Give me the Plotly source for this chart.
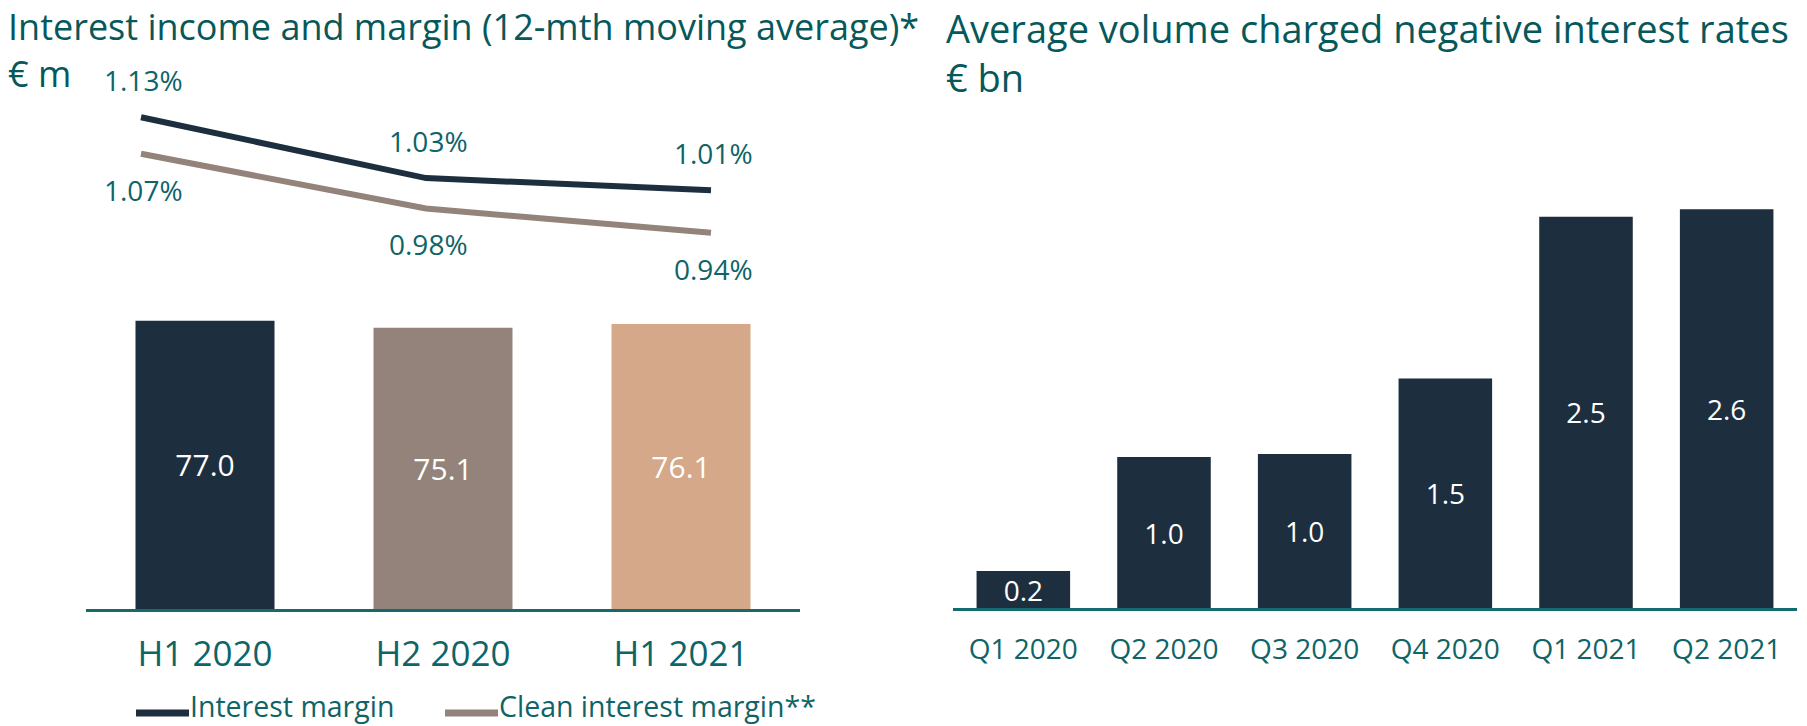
import plotly.graph_objects as go

# ---------------- data ----------------
half_years = ["H1 2020", "H2 2020", "H1 2021"]
interest_income = [77.0, 75.1, 76.1]
interest_margin = [1.13, 1.03, 1.01]
clean_margin = [1.07, 0.98, 0.94]

quarters = ["Q1 2020", "Q2 2020", "Q3 2020", "Q4 2020", "Q1 2021", "Q2 2021"]
neg_volume = [0.24, 0.98, 1.00, 1.49, 2.54, 2.59]

legend_labels = ["Interest margin", "Clean interest margin**"]
left_title = "Interest income and margin (12-mth moving average)*"
left_unit = "€ m"
right_title = "Average volume charged negative interest rates"
right_unit = "€ bn"

# ---------------- style ----------------
W, H = 1807, 726
FONT = "Open Sans"
TEAL = "#0E6466"
TITLE = "#06585A"
NAVY = "#1D2E3E"
TAUPE = "#94837A"
TAN = "#D4A888"
AXIS = "#156A6B"
BAR_COLORS = [NAVY, TAUPE, TAN]


def px(x):
    """screen x pixel -> paper fraction"""
    return x / W


def py(y):
    """screen y pixel -> paper fraction"""
    return 1 - y / H


fig = go.Figure()

# left bars
fig.add_trace(go.Bar(
    x=half_years, y=interest_income, xaxis="x", yaxis="y",
    marker=dict(color=BAR_COLORS, line=dict(width=0)), width=0.584,
    texttemplate="%{y:.1f}", textposition="inside", insidetextanchor="middle",
    constraintext="none",
    textfont=dict(family=FONT, size=30, color="white"), cliponaxis=False,
    showlegend=False, hoverinfo="skip"))

# left lines
idx = list(range(len(half_years)))
fig.add_trace(go.Scatter(
    x=idx, y=interest_margin, xaxis="x2", yaxis="y2", mode="lines",
    line=dict(color=NAVY, width=6), showlegend=False, hoverinfo="skip"))
fig.add_trace(go.Scatter(
    x=idx, y=clean_margin, xaxis="x2", yaxis="y2", mode="lines",
    line=dict(color=TAUPE, width=6), showlegend=False, hoverinfo="skip"))

annotations = []
for i, v in enumerate(interest_margin):
    annotations.append(dict(x=i, y=v, xref="x2", yref="y2", text=f"{v:.2f}%",
                            showarrow=False, yshift=37, xshift=2,
                            font=dict(family=FONT, size=28, color=TEAL)))
for i, v in enumerate(clean_margin):
    annotations.append(dict(x=i, y=v, xref="x2", yref="y2", text=f"{v:.2f}%",
                            showarrow=False, yshift=-36, xshift=2,
                            font=dict(family=FONT, size=28, color=TEAL)))

# right bars
fig.add_trace(go.Bar(
    x=quarters, y=neg_volume, xaxis="x3", yaxis="y3",
    marker=dict(color=NAVY, line=dict(width=0)), width=0.665,
    texttemplate="%{y:.1f}", textposition="inside", insidetextanchor="middle",
    constraintext="none",
    textfont=dict(family=FONT, size=28, color="white"), cliponaxis=False,
    showlegend=False, hoverinfo="skip"))

# titles (title + unit line in one text block)
annotations += [
    dict(x=px(6), y=1, xref="paper", yref="paper", xanchor="left", yanchor="top",
         align="left", text=f"{left_title}<br>{left_unit}", showarrow=False,
         font=dict(family=FONT, size=36, color=TITLE)),
    dict(x=px(944), y=1, xref="paper", yref="paper", xanchor="left", yanchor="top",
         align="left", text=f"{right_title}<br>{right_unit}", showarrow=False,
         font=dict(family=FONT, size=38, color=TITLE)),
]

# legend (manual)
legend_colors = [NAVY, TAUPE]
legend_x = [(136, 189), (445, 498)]
shapes = []
for label, col, (x0, x1) in zip(legend_labels, legend_colors, legend_x):
    shapes.append(dict(type="line", xref="paper", yref="paper", x0=px(x0), x1=px(x1),
                       y0=py(713), y1=py(713), line=dict(color=col, width=7)))
    annotations.append(dict(x=px(x1 - 1), y=py(705.5), xref="paper", yref="paper",
                            xanchor="left", yanchor="middle", text=label, showarrow=False,
                            font=dict(family=FONT, size=28.5, color=TEAL)))

ybase_left = 609
ybase_right = 608
fig.update_layout(
    width=W, height=H,
    margin=dict(l=0, r=0, t=0, b=0),
    paper_bgcolor="white", plot_bgcolor="rgba(0,0,0,0)",
    font=dict(family=FONT, color=TEAL),
    xaxis=dict(domain=[px(86), px(800)], type="category", range=[-0.5, 2.5],
               showline=True, linecolor=AXIS, linewidth=3, showgrid=False, zeroline=False,
               ticks="outside", ticklen=12, tickcolor="rgba(0,0,0,0)",
               tickfont=dict(family=FONT, size=35, color=TEAL), anchor="y", fixedrange=True),
    yaxis=dict(domain=[py(ybase_left), 1], range=[0, ybase_left / 3.744],
               visible=False, anchor="x", fixedrange=True),
    xaxis2=dict(overlaying="x", range=[-(141 - 86) / 285, 2 + (800 - 711) / 285],
                visible=False, anchor="y2", fixedrange=True),
    yaxis2=dict(overlaying="y", range=[0.3217, 1.02667 + 180.1 / 608.4],
                visible=False, anchor="x2", fixedrange=True),
    xaxis3=dict(domain=[px(953), px(1797)], type="category", range=[-0.5, 5.5],
                showline=True, linecolor=AXIS, linewidth=3, showgrid=False, zeroline=False,
                ticks="outside", ticklen=14, tickcolor="rgba(0,0,0,0)",
                tickfont=dict(family=FONT, size=28, color=TEAL), anchor="y3", fixedrange=True),
    yaxis3=dict(domain=[py(ybase_right), 1], range=[0, ybase_right / 154.0],
                visible=False, anchor="x3", fixedrange=True),
    annotations=annotations,
    shapes=shapes,
)

# remove the default 8px page margin so the figure fills the window exactly
fig.write_html("out.html", config={"displayModeBar": False},
               post_script="document.body.style.margin='0px';")
